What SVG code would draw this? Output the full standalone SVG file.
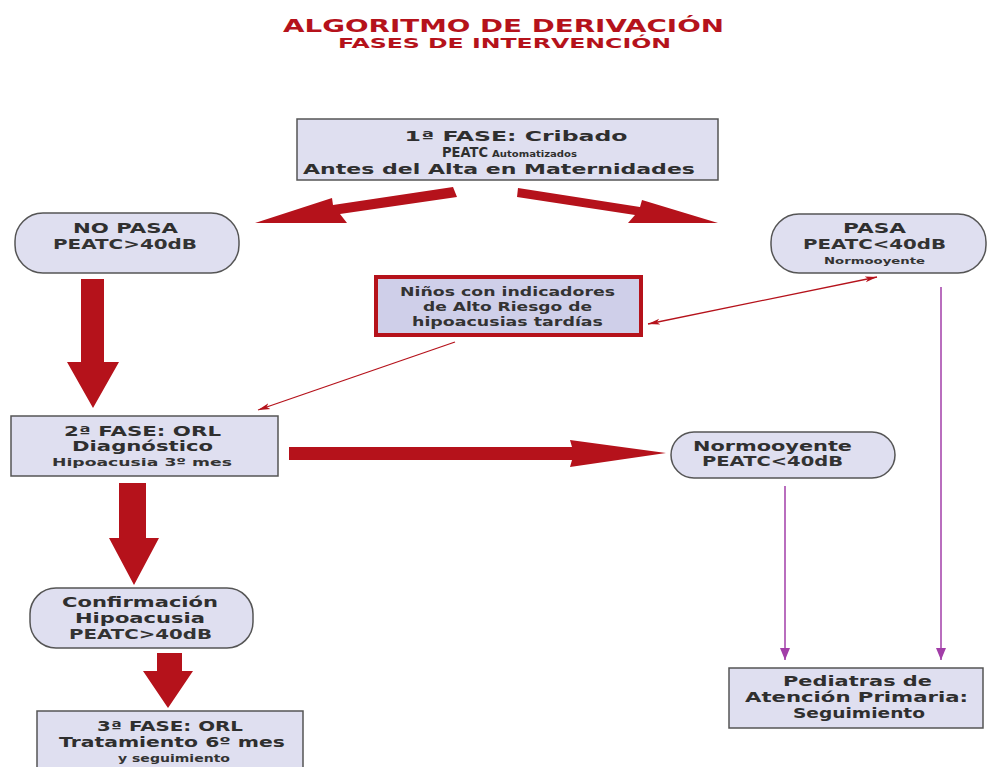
<svg xmlns="http://www.w3.org/2000/svg" width="987" height="767" viewBox="0 0 987 767">
<defs>
<style>
.title{font-family:"DejaVu Sans","Liberation Sans",sans-serif;font-weight:700;fill:#b5121b;text-anchor:middle}
.t{font-family:"DejaVu Sans","Liberation Sans",sans-serif;font-weight:700;fill:#2f2f2f;text-anchor:middle}
.m{font-family:"DejaVu Sans","Liberation Sans",sans-serif;font-weight:600;fill:#333;text-anchor:middle}
.box{fill:#dfdff0;stroke:#555;stroke-width:1.5}
.big{fill:#b5121b}
.thin{stroke:#b5121b;stroke-width:1.3;fill:none}
.purple{stroke:#a23ea8;stroke-width:1.5;fill:none}
</style>
<marker id="ar" viewBox="0 0 12 8" refX="12" refY="4" markerWidth="12" markerHeight="8" markerUnits="userSpaceOnUse" orient="auto-start-reverse">
<path d="M0,1 L12,4 L0,7 L3,4 Z" fill="#b5121b"/>
</marker>
<marker id="ap" viewBox="0 0 10 12" refX="5" refY="12" markerWidth="10" markerHeight="12" markerUnits="userSpaceOnUse" orient="0">
<path d="M0,0 L10,0 L5,12 Z" fill="#a23ea8"/>
</marker>
</defs>
<rect width="987" height="767" fill="#fff"/>

<g id="title">
<text class="title" x="503.5" y="32" font-size="17.5" textLength="441" lengthAdjust="spacingAndGlyphs">ALGORITMO DE DERIVACIÓN</text>
<text class="title" x="504.5" y="48" font-size="14" textLength="333" lengthAdjust="spacingAndGlyphs">FASES DE INTERVENCIÓN</text>
</g>

<g id="connectors">
<polygon class="big" points="453,187 457,197 340,214 347,223 255,223 332,198 333,205"/>
<polygon class="big" points="518,188 517,197 635,215 628,223 718,223 642,200 640,207"/>
<polygon class="big" points="81,279 104,279 104,362 119,362 93,408 67,362 81,362"/>
<polygon class="big" points="289,447 572,447 570,440 666,453 570,467 572,460 289,460"/>
<polygon class="big" points="119,483 146,483 146,538 159,538 134,585 109,538 119,538"/>
<polygon class="big" points="157,653 182,653 182,671 193,671 168,708 143,671 157,671"/>
<line class="thin" x1="877" y1="277" x2="648" y2="324" marker-start="url(#ar)" marker-end="url(#ar)"/>
<line class="thin" x1="455" y1="342" x2="258" y2="410" marker-end="url(#ar)"/>
<line class="purple" x1="785" y1="486" x2="785" y2="660" marker-end="url(#ap)"/>
<line class="purple" x1="941" y1="287" x2="941" y2="660" marker-end="url(#ap)"/>
</g>

<g id="fase1">
<rect class="box" x="297" y="119" width="421" height="61"/>
<text class="t" x="516" y="141" font-size="14" textLength="223" lengthAdjust="spacingAndGlyphs">1ª FASE: Cribado</text>
<text class="t" x="465" y="157" font-size="14.5" textLength="46" lengthAdjust="spacingAndGlyphs">PEATC</text>
<text class="t" x="534.5" y="157" font-size="8.5" textLength="85" lengthAdjust="spacingAndGlyphs">Automatizados</text>
<text class="t" x="499" y="174" font-size="14" textLength="392" lengthAdjust="spacingAndGlyphs">Antes del Alta en Maternidades</text>
</g>

<g id="nopasa">
<rect class="box" x="15" y="213" width="224" height="60" rx="28" ry="28"/>
<text class="t" x="125.5" y="233" font-size="13.5" textLength="105" lengthAdjust="spacingAndGlyphs">NO PASA</text>
<text class="m" x="125" y="249" font-size="13.5" textLength="144" lengthAdjust="spacingAndGlyphs">PEATC&gt;40dB</text>
</g>

<g id="pasa">
<rect class="box" x="771" y="214" width="215" height="59" rx="28" ry="28"/>
<text class="t" x="874.5" y="233" font-size="13.5" textLength="63" lengthAdjust="spacingAndGlyphs">PASA</text>
<text class="m" x="874.5" y="249" font-size="13.5" textLength="143" lengthAdjust="spacingAndGlyphs">PEATC&lt;40dB</text>
<text class="m" x="874.5" y="264" font-size="8.5" textLength="101" lengthAdjust="spacingAndGlyphs">Normooyente</text>
</g>

<g id="riesgo">
<rect x="376" y="277" width="265" height="58" fill="#cfcfe9" stroke="#b5121b" stroke-width="4"/>
<text class="m" x="507.5" y="296" font-size="12.5" textLength="215" lengthAdjust="spacingAndGlyphs">Niños con indicadores</text>
<text class="m" x="507.5" y="311" font-size="12.5" textLength="169" lengthAdjust="spacingAndGlyphs">de Alto Riesgo de</text>
<text class="m" x="507.5" y="326" font-size="12.5" textLength="191" lengthAdjust="spacingAndGlyphs">hipoacusias tardías</text>
</g>

<g id="fase2">
<rect class="box" x="11" y="416" width="267" height="60"/>
<text class="t" x="142.5" y="436" font-size="13.5" textLength="157" lengthAdjust="spacingAndGlyphs">2ª FASE: ORL</text>
<text class="t" x="142.5" y="451" font-size="13.5" textLength="141" lengthAdjust="spacingAndGlyphs">Diagnóstico</text>
<text class="m" x="142" y="466" font-size="11" textLength="180" lengthAdjust="spacingAndGlyphs">Hipoacusia 3º mes</text>
</g>

<g id="normo">
<rect class="box" x="671" y="432" width="224" height="46" rx="23" ry="23"/>
<text class="t" x="772.5" y="451" font-size="13.5" textLength="159" lengthAdjust="spacingAndGlyphs">Normooyente</text>
<text class="m" x="772.5" y="466" font-size="13.5" textLength="141" lengthAdjust="spacingAndGlyphs">PEATC&lt;40dB</text>
</g>

<g id="confirmacion">
<rect class="box" x="30" y="588" width="223" height="60" rx="26" ry="26"/>
<text class="t" x="140" y="607" font-size="13.5" textLength="156" lengthAdjust="spacingAndGlyphs">Confirmación</text>
<text class="t" x="140" y="623" font-size="13.5" textLength="130" lengthAdjust="spacingAndGlyphs">Hipoacusia</text>
<text class="m" x="140.5" y="639" font-size="13.5" textLength="143" lengthAdjust="spacingAndGlyphs">PEATC&gt;40dB</text>
</g>

<g id="fase3">
<rect class="box" x="37" y="711" width="266" height="64"/>
<text class="t" x="170" y="731" font-size="13.5" textLength="146" lengthAdjust="spacingAndGlyphs">3ª FASE: ORL</text>
<text class="t" x="172" y="747" font-size="13.5" textLength="226" lengthAdjust="spacingAndGlyphs">Tratamiento 6º mes</text>
<text class="m" x="174" y="762" font-size="10.5" textLength="112" lengthAdjust="spacingAndGlyphs">y seguimiento</text>
</g>

<g id="pediatras">
<rect class="box" x="729" y="668" width="254" height="60"/>
<text class="t" x="857.5" y="686" font-size="13.5" textLength="149" lengthAdjust="spacingAndGlyphs">Pediatras de</text>
<text class="t" x="856.5" y="702" font-size="13.5" textLength="223" lengthAdjust="spacingAndGlyphs">Atención Primaria:</text>
<text class="t" x="859" y="718" font-size="13.5" textLength="132" lengthAdjust="spacingAndGlyphs">Seguimiento</text>
</g>
</svg>
